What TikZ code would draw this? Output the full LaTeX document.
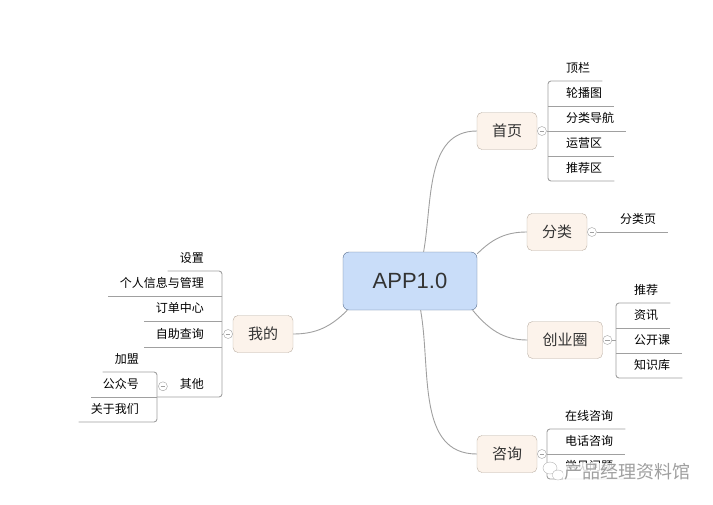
\documentclass[tikz,border=0pt]{standalone}
\usepackage{fontspec}
\setmainfont{Liberation Sans}
\newfontfamily\cjk{Noto Sans CJK SC}
\usetikzlibrary{positioning}

\definecolor{lineGray}{HTML}{A0A0A0}
\definecolor{topicFill}{HTML}{FCF3EB}
\definecolor{topicLine}{HTML}{B9AEA3}
\definecolor{rootFill}{HTML}{C9DDF9}
\definecolor{rootLine}{HTML}{5A6E8C}
\definecolor{textGray}{HTML}{333333}

\tikzset{
  root/.style={rectangle, rounded corners=6pt, draw=rootLine, fill=rootFill,
    minimum width=134pt, minimum height=58pt, text=textGray,
    font=\fontsize{22}{22}\selectfont},
  topic/.style={rectangle, rounded corners=5pt, draw=topicLine, fill=topicFill,
    minimum height=37pt, inner xsep=15pt, text=textGray,
    font=\cjk\fontsize{15}{15}\selectfont},
  leaf/.style={inner xsep=12pt, inner ysep=6.5pt, text height=10pt, text depth=2pt,
    font=\cjk\fontsize{12}{12}\selectfont},
  branch/.style={draw=lineGray, line width=0.9pt},
  dot/.style={circle, draw=lineGray, fill=white, minimum size=9pt, inner sep=0pt,
    path picture={\draw[lineGray, line width=0.6pt]
      ([xshift=-2.2pt]path picture bounding box.center) --
      ([xshift=2.2pt]path picture bounding box.center);}}
}

\begin{document}
\begin{tikzpicture}[x=1pt, y=1pt]
  \useasboundingbox (0,0) rectangle (713,-504);

  % main topics
  \node[root] (app) at (410,-281) {APP1.0};
  \node[topic] (home) at (507,-131) {首页};
  \node[topic] (cat) at (557,-232) {分类};
  \node[topic] (venture) at (565,-340) {创业圈};
  \node[topic] (consult) at (507,-454) {咨询};
  \node[topic] (mine) at (263,-334) {我的};

  \path[branch] (app.65) edge[out=80, in=180] (home.west);
  \path[branch] (app.22) edge[out=45, in=180] (cat.west);
  \path[branch] (app.-25) edge[out=-50, in=180] (venture.west);
  \path[branch] (app.-70) edge[out=-80, in=180] (consult.west);
  \path[branch] (app.205) edge[out=225, in=0] (mine.east);

  \node[dot, right=0pt of home] (homeDot) {};
  \node[dot, right=0pt of cat] (catDot) {};
  \node[dot, right=0pt of venture] (ventureDot) {};
  \node[dot, right=0pt of consult] (consultDot) {};
  \node[dot, left=0pt of mine] (mineDot) {};

  % 首页
  \node[leaf, anchor=south west] (bar) at (554,-81) {顶栏};
  \node[leaf, anchor=south west] (carousel) at (554,-106) {轮播图};
  \node[leaf, anchor=south west] (nav) at (554,-131) {分类导航};
  \node[leaf, anchor=south west] (ops) at (554,-156) {运营区};
  \node[leaf, anchor=south west] (recArea) at (554,-181) {推荐区};
  \draw[branch, rounded corners=3pt] (bar.south east) -- ([xshift=-6pt]bar.south west) |- (recArea.south east);
  \draw[branch] ([xshift=-6pt]carousel.south west) -- (carousel.south east);
  \draw[branch] (homeDot) -- (nav.south east);
  \draw[branch] ([xshift=-6pt]ops.south west) -- (ops.south east);

  % 分类
  \node[leaf, anchor=south west] (catPage) at (608,-232) {分类页};
  \draw[branch] (catDot) -- (catPage.south east);

  % 创业圈
  \node[leaf, anchor=south west] (rec) at (622,-303) {推荐};
  \node[leaf, anchor=south west] (news) at (622,-328) {资讯};
  \node[leaf, anchor=south west] (course) at (622,-353) {公开课};
  \node[leaf, anchor=south west] (wiki) at (622,-378) {知识库};
  \coordinate (ventureSpine) at ([xshift=-6pt]rec.south west);
  \draw[branch, rounded corners=3pt] (rec.south east) -- (ventureSpine) |- (wiki.south east);
  \draw[branch] ([xshift=-6pt]news.south west) -- (news.south east);
  \draw[branch] ([xshift=-6pt]course.south west) -- (course.south east);
  \draw[branch] (ventureDot) -- (ventureDot -| ventureSpine);

  % 咨询
  \node[leaf, anchor=south west] (online) at (553,-429) {在线咨询};
  \node[leaf, anchor=south west] (phone) at (553,-454) {电话咨询};
  \node[leaf, anchor=south west] (faq) at (553,-479) {常见问题};
  \draw[branch, rounded corners=3pt] (online.south east) -- ([xshift=-6pt]online.south west) |- (faq.south east);
  \draw[branch] (consultDot) -- (phone.south east);

  % 我的
  \node[leaf, anchor=south east] (settings) at (216,-271) {设置};
  \node[leaf, anchor=south east] (profile) at (216,-296) {个人信息与管理};
  \node[leaf, anchor=south east] (orders) at (216,-321) {订单中心};
  \node[leaf, anchor=south east] (selfQuery) at (216,-347) {自助查询};
  \node[leaf, anchor=south east] (other) at (216,-397) {其他};
  \node[dot, left=0pt of other, yshift=-2pt] (otherDot) {};
  \node[leaf, anchor=south east] (join) at (151,-372) {加盟};
  \node[leaf, anchor=south east] (wechat) at (151,-397) {公众号};
  \node[leaf, anchor=south east] (about) at (151,-422) {关于我们};
  \coordinate (mineSpine) at ([xshift=6pt]settings.south east);
  \draw[branch, rounded corners=3pt] (settings.south west) -- (mineSpine) |- ([xshift=6pt]wechat.south east);
  \draw[branch] ([xshift=6pt]profile.south east) -- (profile.south west);
  \draw[branch] ([xshift=6pt]orders.south east) -- (orders.south west);
  \draw[branch] ([xshift=6pt]selfQuery.south east) -- (selfQuery.south west);
  \draw[branch] (mineDot) -- (mineDot -| mineSpine);
  \draw[branch, rounded corners=3pt] (join.south west) -- ([xshift=6pt]join.south east) |- (about.south west);
  \draw[branch] ([xshift=6pt]wechat.south east) -- (wechat.south west);

  % watermark
  \draw[gray!60, fill=white] (550,-468) ellipse (7pt and 6pt);
  \draw[gray!60, fill=white] (558,-475) ellipse (6pt and 5pt);
  \node[fill=white, fill opacity=0.8, text opacity=1, text=gray!75, inner sep=1pt,
    font=\cjk\fontsize{18}{18}\selectfont] (mark) at (627,-472) {产品经理资料馆};
\end{tikzpicture}
\end{document}
